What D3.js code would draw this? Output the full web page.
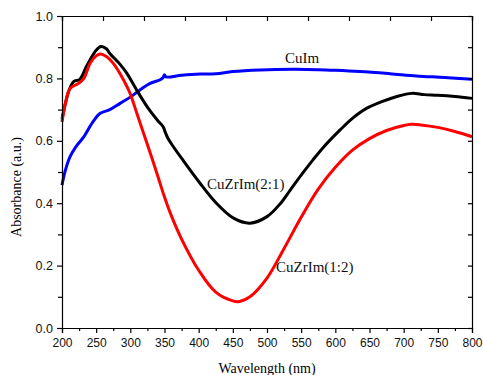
<!DOCTYPE html>
<html>
<head>
<meta charset="utf-8">
<script src="https://cdn.jsdelivr.net/npm/d3@7"></script>
<style>
  body { margin: 0; background: #fff; }
  svg { display: block; }
</style>
</head>
<body>
<div id="chart"></div>
<script>
// Spectra (wavelength nm -> absorbance a.u.)
const cuImWl  = [200, 205, 212, 220, 231, 245, 256, 270, 285, 300, 314, 329, 343, 348, 350, 352, 375, 402, 425, 450, 490, 538, 575, 600, 636, 680, 719, 760, 800];
const cuImAbs = [0.458, 0.506, 0.55, 0.58, 0.61, 0.66, 0.688, 0.70, 0.72, 0.74, 0.763, 0.784, 0.795, 0.803, 0.812, 0.805, 0.81, 0.814, 0.815, 0.822, 0.827, 0.829, 0.828, 0.826, 0.822, 0.815, 0.808, 0.803, 0.797];

const cz21Wl  = [200, 205, 210, 217, 226, 235, 241, 250, 257, 265, 270, 285, 295, 310, 325, 340, 348, 351, 355, 363, 377, 402, 426, 451, 475, 500, 520, 534, 550, 567, 582, 607, 625, 645, 670, 690, 712, 730, 750, 775, 800];
const cz21Abs = [0.67, 0.72, 0.76, 0.79, 0.797, 0.835, 0.859, 0.89, 0.902, 0.895, 0.88, 0.845, 0.816, 0.76, 0.708, 0.665, 0.645, 0.628, 0.608, 0.581, 0.538, 0.464, 0.40, 0.352, 0.336, 0.357, 0.40, 0.442, 0.49, 0.538, 0.578, 0.635, 0.672, 0.703, 0.727, 0.742, 0.752, 0.748, 0.746, 0.742, 0.736];

const cz12Wl  = [200, 205, 212, 224, 232, 241, 250, 256, 265, 275, 285, 295, 300, 310, 320, 330, 340, 350, 360, 375, 400, 425, 450, 460, 475, 500, 525, 550, 575, 600, 625, 650, 675, 700, 712, 725, 750, 775, 800];
const cz12Abs = [0.66, 0.72, 0.768, 0.784, 0.80, 0.848, 0.872, 0.878, 0.87, 0.848, 0.815, 0.774, 0.75, 0.685, 0.62, 0.555, 0.488, 0.42, 0.36, 0.285, 0.185, 0.115, 0.087, 0.085, 0.10, 0.16, 0.255, 0.355, 0.445, 0.515, 0.57, 0.607, 0.633, 0.649, 0.653, 0.651, 0.643, 0.63, 0.613];

const seriesNames  = ['CuIm', 'CuZrIm(2:1)', 'CuZrIm(1:2)'];
const seriesColors = ['#0000ff', '#000000', '#ff0000'];

const xTicks = d3.range(200, 801, 50);
const xMinor = d3.range(225, 800, 50);
const yTicks = [0, 0.2, 0.4, 0.6, 0.8, 1.0];
const yMinor = [0.1, 0.3, 0.5, 0.7, 0.9];

const W = 483, H = 375;
const svg = d3.select('#chart').append('svg').attr('width', W).attr('height', H);

const x = d3.scaleLinear().domain([200, 800]).range([62, 472]);
const y = d3.scaleLinear().domain([0, 1]).range([328, 16]);

const series = [
  { name: seriesNames[0], color: seriesColors[0], pts: cuImWl.map((w, i) => [w, cuImAbs[i]]) },
  { name: seriesNames[1], color: seriesColors[1], pts: cz21Wl.map((w, i) => [w, cz21Abs[i]]) },
  { name: seriesNames[2], color: seriesColors[2], pts: cz12Wl.map((w, i) => [w, cz12Abs[i]]) },
];

const line = d3.line().x(d => x(d[0])).y(d => y(d[1])).curve(d3.curveCatmullRom.alpha(0.5));

svg.selectAll('.spec')
  .data(series)
  .enter()
  .append('path')
  .attr('class', 'spec')
  .attr('fill', 'none')
  .attr('stroke', d => d.color)
  .attr('stroke-width', 3)
  .attr('stroke-linejoin', 'round')
  .attr('d', d => line(d.pts));

const axisStyle = sel => {
  sel.selectAll('path, line').attr('stroke', '#000').attr('stroke-width', 1.2);
  sel.selectAll('text').attr('fill', '#111').attr('font-family', 'Liberation Sans, Arial, sans-serif');
};

// bottom axis (major + minor, outward)
svg.append('g')
  .attr('transform', `translate(0,${y(0)})`)
  .call(d3.axisBottom(x).tickValues(xTicks).tickSize(5).tickPadding(5).tickFormat(d3.format('d')))
  .call(axisStyle)
  .call(sel => sel.selectAll('text').attr('font-size', 12));
svg.append('g')
  .attr('transform', `translate(0,${y(0)})`)
  .call(d3.axisBottom(x).tickValues(xMinor).tickSize(3).tickFormat(''))
  .call(axisStyle)
  .call(sel => sel.select('.domain').remove());

// left axis
svg.append('g')
  .attr('transform', `translate(${x(200)},0)`)
  .call(d3.axisLeft(y).tickValues(yTicks).tickSize(5).tickPadding(4).tickFormat(d3.format('.1f')))
  .call(axisStyle)
  .call(sel => sel.selectAll('text').attr('font-size', 12.5));
svg.append('g')
  .attr('transform', `translate(${x(200)},0)`)
  .call(d3.axisLeft(y).tickValues(yMinor).tickSize(4).tickFormat(''))
  .call(axisStyle)
  .call(sel => sel.select('.domain').remove());

// top axis: inward ticks, 10 divisions
const xTop = d3.scaleLinear().domain([0, 10]).range([62, 472]);
svg.append('g')
  .attr('transform', `translate(0,${y(1)})`)
  .call(d3.axisBottom(xTop).ticks(10).tickSize(5).tickFormat(''))
  .call(axisStyle);

// right axis: inward ticks every 0.1
svg.append('g')
  .attr('transform', `translate(${x(800)},0)`)
  .call(d3.axisLeft(y).tickValues(d3.range(0, 1.01, 0.1)).tickSize(4).tickFormat(''))
  .call(axisStyle);

// axis titles
svg.append('text')
  .attr('x', 267).attr('y', 373)
  .attr('text-anchor', 'middle')
  .attr('font-family', 'Liberation Serif, Times New Roman, serif')
  .attr('font-size', 14)
  .text('Wavelength (nm)');
svg.append('text')
  .attr('transform', 'translate(21,187) rotate(-90)')
  .attr('text-anchor', 'middle')
  .attr('font-family', 'Liberation Serif, Times New Roman, serif')
  .attr('font-size', 14)
  .text('Absorbance (a.u.)');

// curve labels
const labelPos = [[285, 63], [207, 189], [276, 272]];
svg.selectAll('.lbl')
  .data(series)
  .enter()
  .append('text')
  .attr('class', 'lbl')
  .attr('x', (d, i) => labelPos[i][0])
  .attr('y', (d, i) => labelPos[i][1])
  .attr('font-family', 'Liberation Serif, Times New Roman, serif')
  .attr('font-size', 15)
  .attr('fill', '#111')
  .text(d => d.name);
</script>
</body>
</html>
